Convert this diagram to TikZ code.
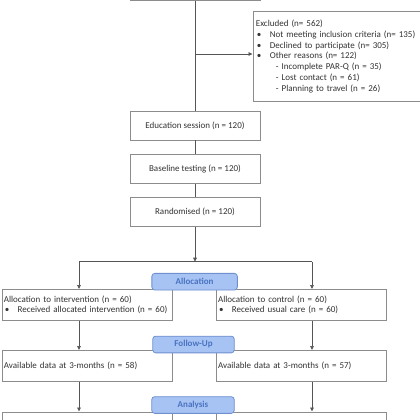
\documentclass[tikz,border=0pt]{standalone}
\usepackage{fontspec}
\setmainfont{Carlito}
\usetikzlibrary{arrows.meta,calc}
\definecolor{boxline}{HTML}{8C8C8C}
\definecolor{conn}{HTML}{555555}
\definecolor{txt}{HTML}{333333}
\definecolor{lblfill}{HTML}{A6C3F4}
\definecolor{lblline}{HTML}{6F8FCF}
\definecolor{lbltxt}{HTML}{4A72C0}
\newcommand{\bul}[1]{\makebox[#1][l]{\hspace{1pt}•}}
\begin{document}
\begin{tikzpicture}[x=1pt,y=-1pt,
  font=\fontsize{9}{10.8}\selectfont,
  box/.style={draw=boxline, line width=0.8pt, fill=white, text=txt, inner sep=2.5pt},
  leftbox/.style={box, anchor=north west, align=left, text width=166pt, inner xsep=2pt, minimum height=31pt},
  lbl/.style={draw=lblline, line width=0.8pt, fill=lblfill, rounded corners=3pt, text=lbltxt,
    font=\fontsize{9}{10.8}\selectfont\bfseries, minimum width=84pt, minimum height=16.7pt, inner sep=0pt},
  arr/.style={draw=conn, line width=0.7pt, -{Triangle[length=4pt,width=3.6pt]}},
  ln/.style={draw=conn, line width=0.7pt}]
\useasboundingbox (0,0) rectangle (420,420);
\clip (0,0) rectangle (420,420);

% top (cut-off) box
\node[box, anchor=south, minimum width=130pt, minimum height=30pt] (top) at (195,1) {};

% excluded box
\node[box, anchor=north west, align=left, text width=161pt, minimum height=90pt, inner xsep=3pt] (excl) at (252.5,11)
 {Excluded (n= 562)\\
  \bul{14pt}Not meeting inclusion criteria (n= 135)\\
  \bul{14pt}Declined to participate (n= 305)\\
  \bul{14pt}Other reasons (n= 122)\\
  \hspace{20pt}- Incomplete PAR-Q (n = 35)\\
  \hspace{20pt}- Lost contact (n = 61)\\
  \hspace{20pt}- Planning to travel (n = 26)};

% central column
\node[box, minimum width=130pt, minimum height=29pt] (edu) at (195,125.5) {Education session (n = 120)};
\node[box, minimum width=130pt, minimum height=29pt] (base) at (195,168.8) {Baseline testing (n = 120)};
\node[box, minimum width=130pt, minimum height=29pt] (rand) at (195,212.2) {Randomised (n = 120)};

% allocation row
\node[leftbox] (int) at (1.5,289)
 {Allocation to intervention (n = 60)\\ \bul{13.7pt}Received allocated intervention (n = 60)};
\node[leftbox] (ctl) at (215.7,289)
 {Allocation to control (n = 60)\\ \bul{13.7pt}Received usual care (n = 60)};

% 3-month row
\node[leftbox] (mthl) at (1.5,350) {Available data at 3-months (n = 58)};
\node[leftbox] (mthr) at (215.7,350) {Available data at 3-months (n = 57)};

% 9-month row (cut off at the lower edge, as in the reference)
\node[box, anchor=north west, align=left, text width=166pt, inner xsep=2pt, inner ysep=5pt, minimum height=25pt] (nml) at (1.5,411.5) {Available data at 9-months (n = 55)};
\node[box, anchor=north west, align=left, text width=166pt, inner xsep=2pt, inner ysep=5pt, minimum height=25pt] (nmr) at (215.7,411.5) {Available data at 9-months (n = 55)};

% connectors
\coordinate (br) at (195,54);
\path[ln] (top.south) -- (edu.north);
\path[arr] (br) -- (br -| excl.west);
\path[ln] (edu) -- (base);
\path[ln] (base) -- (rand);
\coordinate (split) at (195,261.7);
\coordinate (sl) at (79,261.7);
\coordinate (sr) at (312,261.7);
\path[arr] (rand) -- (split);
\path[ln] (sl) -- (sr);
\path[arr] (sl) -- (sl |- int.north);
\path[arr] (sr) -- (sr |- ctl.north);
\path[arr] (sl |- int.south) -- (sl |- mthl.north);
\path[arr] (sr |- ctl.south) -- (sr |- mthr.north);
\path[arr] (sl |- mthl.south) -- (sl |- nml.north);
\path[arr] (sr |- mthr.south) -- (sr |- nmr.north);

% stage labels
\node[lbl, minimum width=85.5pt] (alloc) at (194.6,281.7) {Allocation};
\node[lbl, minimum width=81.5pt] (fu) at (193.5,344.5) {Follow-Up};
\node[lbl, minimum width=82.5pt] (ana) at (193,405) {Analysis};
\end{tikzpicture}
\end{document}
